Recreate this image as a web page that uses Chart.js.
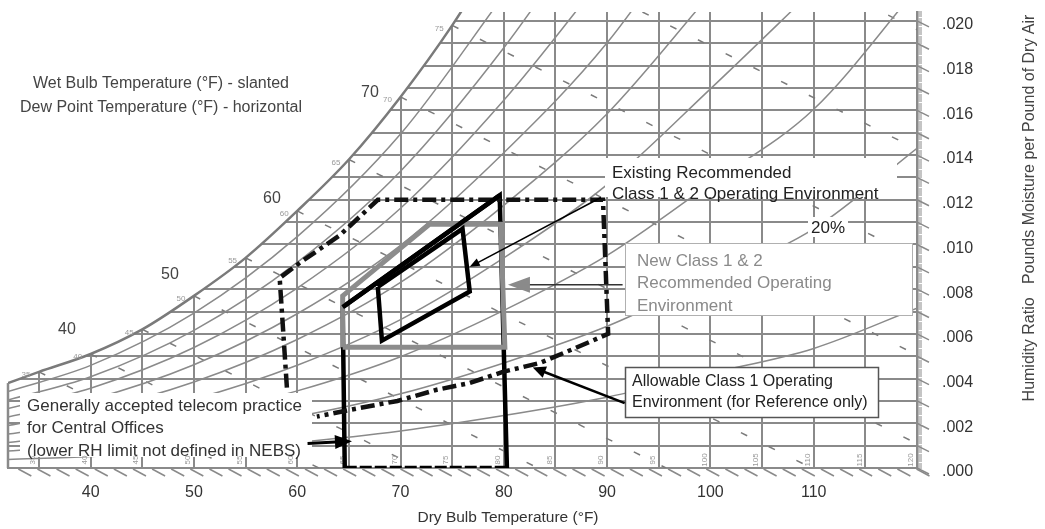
<!DOCTYPE html>
<html>
<head>
<meta charset="utf-8">
<title>Psychrometric chart</title>
<script src="https://cdn.jsdelivr.net/npm/chart.js@4.4.1/dist/chart.umd.min.js"></script>
<style>
  html, body { margin: 0; padding: 0; background: #fff; }
  #grafo { display: block; }
</style>
</head>
<body>
<canvas id="grafo" width="1045" height="529"></canvas>
<script>
// curva de saturacion: temperatura seca (F) y humedad (lb/lb aire seco)
const satT = [32, 35, 40, 45, 50, 55, 60, 65, 70, 75, 80];
const satW = [0.0038, 0.0043, 0.0051, 0.0062, 0.0077, 0.0094, 0.0115, 0.0138, 0.0166, 0.0198, 0.0235];

// curvas de humedad relativa (10% .. 90%)
const rhT = [32, 40, 50, 60, 70, 80, 90, 100, 110, 120];
const rh10 = [0.00038, 0.00051, 0.00077, 0.00115, 0.00166, 0.00235, 0.00317, 0.00424, 0.00535, 0.00715];
const rh20 = [0.00076, 0.00102, 0.00154, 0.0023, 0.00332, 0.0047, 0.00634, 0.00848, 0.0107, 0.0143];
const rh30 = [0.00114, 0.00153, 0.00231, 0.00345, 0.00498, 0.00705, 0.00951, 0.01272, 0.01605, 0.02145];
const rh40 = [0.00152, 0.00204, 0.00308, 0.0046, 0.00664, 0.0094, 0.01268, 0.01696, 0.0214];
const rh50 = [0.0019, 0.00255, 0.00385, 0.00575, 0.0083, 0.01175, 0.01585, 0.0212];
const rh60 = [0.00228, 0.00306, 0.00462, 0.0069, 0.00996, 0.0141, 0.01902, 0.02544];
const rh70 = [0.00266, 0.00357, 0.00539, 0.00805, 0.01162, 0.01645, 0.02219];
const rh80 = [0.00304, 0.00408, 0.00616, 0.0092, 0.01328, 0.0188, 0.02536];
const rh90 = [0.00342, 0.00459, 0.00693, 0.01035, 0.01494, 0.02115];

// lineas de bulbo humedo: empiezan en saturacion y bajan hasta W = 0
const wbT = [35, 40, 45, 50, 55, 60, 65, 70, 75, 80, 85];
const wbStartW = [0.0043, 0.0051, 0.0062, 0.0077, 0.0094, 0.0115, 0.0138, 0.0166, 0.0198, 0.0235, 0.0277];
const wbEndT = [53.6, 62.1, 71.8, 83.3, 95.7, 109.8, 124.7, 141.9, 160.7, 181.7, 204.9];

// practica telecom (negro): lados y borde superior
const teleT = [64.6, 64.4, 79.6, 80.3];
const teleW = [0, 0.0072, 0.0122, 0];

// nueva clase 1 y 2 (gris)
const newT = [64.4, 64.4, 72.8, 79.7, 80.1, 64.4];
const newW = [0.0054, 0.0077, 0.0109, 0.0109, 0.0054, 0.0054];

// clase 1 y 2 existente (negro)
const oldT = [67.8, 76.0, 76.7, 68.2, 67.8];
const oldW = [0.0081, 0.0107, 0.0079, 0.0057, 0.0081];

// clase 1 permitida (punto y raya)
const allowT = [59.0, 58.3, 60.3, 64.1, 67.8, 89.6, 90.1, 87.1, 83.5, 79.9, 76.7, 73.5, 69.7, 65.1, 61.9];
const allowW = [0.0036, 0.0085, 0.0092, 0.0104, 0.0120, 0.0120, 0.0060, 0.0054, 0.0047, 0.0043, 0.0038, 0.0035, 0.0030, 0.0026, 0.0023];

// flechas de las notas [T, W] inicio -> fin
const arrowExisting = [[89.4, 0.0121], [76.7, 0.0090]];
const arrowNew = [[91.5, 0.0082], [80.4, 0.0082]];
const arrowAllow = [[91.7, 0.0029], [82.8, 0.0045]];
const arrowTele = [[61.0, 0.0011], [65.3, 0.0012]];

// ejes
const xGrid = [35, 40, 45, 50, 55, 60, 65, 70, 75, 80, 85, 90, 95, 100, 105, 110, 115, 120];
const xLabels = [40, 50, 60, 70, 80, 90, 100, 110];
const yLabels = ['.000', '.002', '.004', '.006', '.008', '.010', '.012', '.014', '.016', '.018', '.020'];
const bigWbLabels = ['70', '60', '50', '40'];

const FONT = '"Liberation Sans", Arial, sans-serif';
Chart.defaults.font.family = FONT;

const xy = (ts, ws) => ts.map((t, i) => ({ x: t, y: ws[i] }));

function linea(data, extra) {
  return Object.assign({
    data: data, showLine: true, pointRadius: 0, fill: false,
    borderColor: '#8a8a8a', borderWidth: 1.5, order: 9
  }, extra);
}

let datasets = [];
// fondo blanco sobre la curva de saturacion
datasets.push(linea(xy(satT, satW), {
  fill: 'end', backgroundColor: '#ffffff', borderColor: '#7a7a7a', borderWidth: 2.5,
  cubicInterpolationMode: 'monotone', order: 10
}));
datasets.push(linea(xy([32, 32], [0, satW[0]]), { borderWidth: 2.5, clip: 5 }));
[rh10, rh20, rh30, rh40, rh50, rh60, rh70, rh80, rh90].forEach(rh => {
  datasets.push(linea(xy(rhT.slice(0, rh.length), rh), { cubicInterpolationMode: 'monotone' }));
});
for (let i = 0; i < wbT.length; i++) {
  datasets.push(linea(xy([wbT[i], wbEndT[i]], [wbStartW[i], 0]), { borderDash: [7, 24], borderColor: '#7a7a7a' }));
}
// marcas principales
datasets.push(linea(xy(teleT, teleW), { borderColor: '#000', borderWidth: 4.5, order: 5 }));
datasets.push(linea(xy([teleT[0], teleT[3]], [0, 0]), { borderColor: '#000', borderWidth: 4.5, borderDash: [12, 3], order: 5 }));
datasets.push(linea(xy(newT, newW), { borderColor: '#8c8c8c', borderWidth: 5, order: 4 }));
datasets.push(linea(xy(teleT.slice(1, 3), teleW.slice(1, 3)), { borderColor: '#000', borderWidth: 4.5, order: 3 }));
datasets.push(linea(xy(oldT, oldW), { borderColor: '#000', borderWidth: 4.5, order: 3 }));
datasets.push(linea(xy(allowT, allowW), { borderColor: '#111', borderWidth: 4.5, borderDash: [14, 5, 4, 5], order: 3 }));

function caja(ctx, x, y, w, h, borde, grosor) {
  ctx.fillStyle = '#fff';
  ctx.fillRect(x, y, w, h);
  if (borde) {
    ctx.strokeStyle = borde;
    ctx.lineWidth = grosor;
    ctx.strokeRect(x + 0.5, y + 0.5, w, h);
  }
}

function texto(ctx, lines, x, y, step, size, color) {
  ctx.font = size + 'px ' + FONT;
  ctx.fillStyle = color;
  ctx.textAlign = 'left';
  ctx.textBaseline = 'middle';
  lines.forEach((l, i) => ctx.fillText(l, x, y + i * step));
}

function flecha(chart, pts, o) {
  const ctx = chart.ctx;
  const sx = chart.scales.x, sy = chart.scales.y;
  const x1 = sx.getPixelForValue(pts[0][0]), y1 = sy.getPixelForValue(pts[0][1]);
  const x2 = sx.getPixelForValue(pts[1][0]), y2 = sy.getPixelForValue(pts[1][1]);
  const a = Math.atan2(y2 - y1, x2 - x1);
  const c = Math.cos(a), s = Math.sin(a);
  ctx.save();
  ctx.strokeStyle = o.line;
  ctx.lineWidth = o.width;
  ctx.beginPath();
  ctx.moveTo(x1, y1);
  ctx.lineTo(x2 - c * o.head * 0.7, y2 - s * o.head * 0.7);
  ctx.stroke();
  ctx.fillStyle = o.fill;
  ctx.beginPath();
  ctx.moveTo(x2, y2);
  ctx.lineTo(x2 - o.head * c + o.half * s, y2 - o.head * s - o.half * c);
  ctx.lineTo(x2 - o.head * c - o.half * s, y2 - o.head * s + o.half * c);
  ctx.closePath();
  ctx.fill();
  ctx.restore();
}

// cajas blancas de las notas: van debajo de las marcas principales
function dibujarCajas(chart) {
  const ctx = chart.ctx;
  const sx = chart.scales.x, sy = chart.scales.y;
  const area = chart.chartArea;
  ctx.save();
  // tapa los restos de la rejilla en el borde superior, encima de la saturacion
  let k = satW.findIndex(w => w > sy.max);
  ctx.fillStyle = '#fff';
  ctx.fillRect(area.left, area.top - 3, sx.getPixelForValue(satT[k - 1]) - area.left, 4);

  caja(ctx, 605, 158, 292, 39);
  caja(ctx, 808, 217, 40, 20);
  caja(ctx, 625, 243, 287, 72, '#b0b0b0', 1);
  caja(ctx, 20, 393, 292, 64);
  // etiquetas pequenas de temperatura seca
  ctx.font = '8px ' + FONT;
  ctx.fillStyle = '#999';
  ctx.textAlign = 'center';
  ctx.textBaseline = 'middle';
  xGrid.forEach(t => {
    ctx.save();
    ctx.translate(sx.getPixelForValue(t) - 6, area.bottom - 8);
    ctx.rotate(-Math.PI / 2);
    ctx.fillText(String(t), 0, 0);
    ctx.restore();
  });
  // etiquetas pequenas de bulbo humedo sobre la saturacion
  for (let i = 1; i < satT.length - 1; i++) {
    ctx.fillText(String(satT[i]), sx.getPixelForValue(satT[i]) - 13, sy.getPixelForValue(satW[i]) + 3);
  }
  ctx.restore();
}

const notas = {
  id: 'notas',
  beforeDraw(chart) { chart.$cajas = false; },
  beforeDatasetDraw(chart, args) {
    if (!chart.$cajas && chart.data.datasets[args.index].order <= 5) {
      dibujarCajas(chart);
      chart.$cajas = true;
    }
  },
  afterDatasetsDraw(chart) {
    const ctx = chart.ctx;
    const sx = chart.scales.x, sy = chart.scales.y;
    const area = chart.chartArea;
    ctx.save();
    caja(ctx, 625, 367, 253, 50, '#555', 1.5);

    flecha(chart, arrowExisting, { line: '#000', width: 1.5, fill: '#000', head: 10, half: 4 });
    flecha(chart, arrowNew, { line: '#333', width: 1.5, fill: '#8a8a8a', head: 22, half: 8 });
    flecha(chart, arrowAllow, { line: '#000', width: 2.5, fill: '#000', head: 13, half: 6 });
    flecha(chart, arrowTele, { line: '#000', width: 3, fill: '#000', head: 17, half: 7 });

    // marcas inclinadas del borde inferior y derecho
    ctx.strokeStyle = '#8a8a8a';
    ctx.lineWidth = 1.5;
    for (let t = 33; t < 120; t += 1.85) {
      const x = sx.getPixelForValue(t);
      ctx.beginPath();
      ctx.moveTo(x, area.bottom + 1);
      ctx.lineTo(x + 13, area.bottom + 8);
      ctx.stroke();
    }
    for (let i = 0; i <= 20; i++) {
      const y = sy.getPixelForValue(i / 1000);
      ctx.beginPath();
      ctx.moveTo(area.right, y);
      ctx.lineTo(area.right + 12, y + 6);
      ctx.stroke();
    }

    texto(ctx, ['Existing Recommended', 'Class 1 & 2 Operating Environment'], 612, 173, 21, 17, '#222');
    texto(ctx, ['20%'], 811, 228, 0, 17, '#222');
    texto(ctx, ['New Class 1 & 2', 'Recommended Operating', 'Environment'], 637, 261, 22.5, 17, '#8a8a8a');
    texto(ctx, ['Allowable Class 1 Operating', 'Environment (for Reference only)'], 632, 382, 21, 16, '#222');
    texto(ctx, ['Generally accepted telecom practice', 'for Central Offices', '(lower RH limit not defined in NEBS)'], 27, 406, 22.5, 17, '#333');

    ctx.textAlign = 'center';
    ctx.font = '16px ' + FONT;
    ctx.fillStyle = '#444';
    ctx.fillText('Wet Bulb Temperature (\u00b0F) - slanted', 161, 84);
    ctx.fillText('Dew Point Temperature (\u00b0F) - horizontal', 161, 108);
    const bigPos = [[370, 93], [272, 199], [170, 275], [67, 330]];
    bigWbLabels.forEach((l, i) => ctx.fillText(l, bigPos[i][0], bigPos[i][1]));

    ctx.font = '15.5px ' + FONT;
    ctx.fillStyle = '#333';
    ctx.fillText('Dry Bulb Temperature (\u00b0F)', 508, 518);

    ctx.save();
    ctx.translate(1030, 208);
    ctx.rotate(-Math.PI / 2);
    ctx.font = '16px ' + FONT;
    ctx.fillStyle = '#444';
    ctx.fillText('Humidity Ratio   Pounds Moisture per Pound of Dry Air', 0, 0);
    ctx.restore();
    ctx.restore();
  }
};

const grafica = new Chart(document.getElementById('grafo'), {
  type: 'scatter',
  data: { datasets: datasets },
  options: {
    responsive: false,
    animation: false,
    events: [],
    layout: { padding: { top: 12, left: 8, right: 0, bottom: 0 } },
    plugins: { legend: { display: false }, tooltip: { enabled: false } },
    scales: {
      x: {
        type: 'linear', min: 32, max: 120,
        afterBuildTicks: (s) => { s.ticks = xGrid.map(v => ({ value: v })); },
        afterFit: (s) => { s.height = 61; s.paddingLeft = 0; s.paddingRight = 0; },
        grid: { color: '#8a8a8a', lineWidth: 2, drawTicks: false },
        border: { color: '#8a8a8a', width: 2 },
        ticks: {
          autoSkip: false, maxRotation: 0, minRotation: 0, padding: 15,
          color: '#333', font: { size: 16 },
          callback: (v) => xLabels.includes(v) ? String(v) : ''
        }
      },
      y: {
        type: 'linear', position: 'right', min: 0, max: 0.0204,
        afterBuildTicks: (s) => {
          const t = [];
          for (let i = 0; i <= 204; i++) t.push({ value: i / 10000 });
          s.ticks = t;
        },
        // ancho fijo del eje y sin relleno extra arriba
        afterFit: (s) => { s.width = 128; s.paddingTop = 0; s.paddingBottom = 0; },
        grid: {
          lineWidth: 2, tickLength: 5, tickWidth: 1, tickColor: '#8a8a8a',
          color: (c) => Math.round(c.tick.value * 10000) % 10 === 0 ? '#8a8a8a' : 'rgba(0,0,0,0)'
        },
        border: { color: '#8a8a8a', width: 2.5 },
        ticks: {
          autoSkip: false, padding: 20, labelOffset: 4,
          color: '#333', font: { size: 16 },
          callback: (v) => {
            const k = Math.round(v * 10000);
            return k % 20 === 0 ? yLabels[k / 20] : '';
          }
        }
      }
    }
  },
  plugins: [notas]
});
</script>
</body>
</html>
